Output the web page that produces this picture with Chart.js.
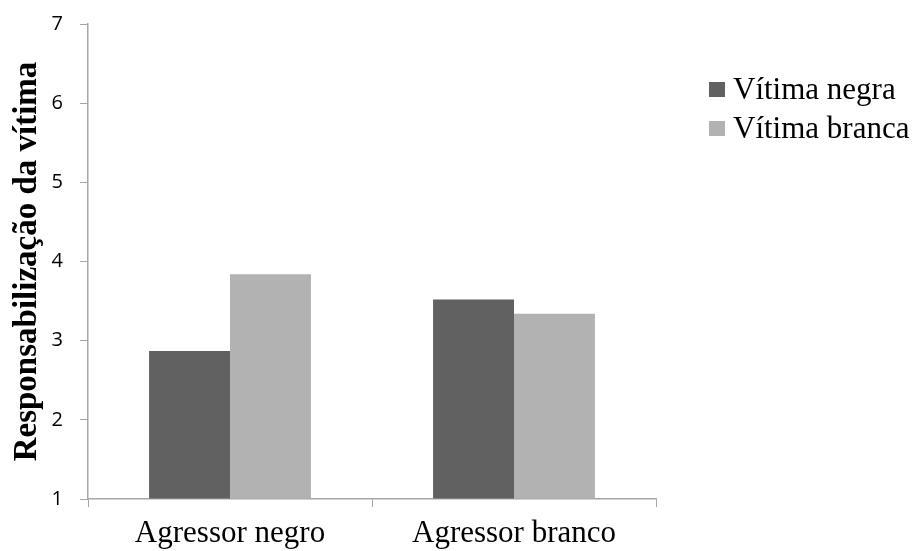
<!DOCTYPE html>
<html>
<head>
<meta charset="utf-8">
<script src="https://cdn.jsdelivr.net/npm/chart.js@4"></script>
<style>
  html, body { margin: 0; padding: 0; background: #fff; }
  #wrap { width: 916px; height: 551px; }
</style>
</head>
<body>
<div id="wrap"><canvas id="chart" width="916" height="551"></canvas></div>
<script>
const categories = ['Agressor negro', 'Agressor branco'];
const seriesNames = ['Vítima negra', 'Vítima branca'];
const vitimaNegra = [2.87, 3.52];
const vitimaBranca = [3.84, 3.34];
const yTicks = [1, 2, 3, 4, 5, 6, 7];

const serif = '"Liberation Serif", "Times New Roman", serif';
const axisGray = '#a6a6a6';

// legend drawn by hand on the right, next to the plot
const sideLegend = {
    id: 'sideLegend',
    afterDraw(chart) {
        const ctx = chart.ctx;
        ctx.save();
        ctx.font = '31px ' + serif;
        ctx.textBaseline = 'middle';
        chart.data.datasets.forEach((ds, i) => {
            const y = 90 + i * 39;
            ctx.fillStyle = ds.backgroundColor;
            ctx.fillRect(709, y - 8, 16, 15);
            ctx.fillStyle = '#000';
            ctx.fillText(ds.label, 733, y + 1);
        });
        ctx.restore();
    }
};

new Chart(document.getElementById('chart'), {
    type: 'bar',
    data: {
        labels: categories,
        datasets: [
            { label: seriesNames[0], data: vitimaNegra, backgroundColor: '#616161', base: 1 },
            { label: seriesNames[1], data: vitimaBranca, backgroundColor: '#b2b2b2', base: 1 }
        ]
    },
    options: {
        responsive: false,
        animation: false,
        layout: { padding: { top: 24, right: 260, left: 0, bottom: 0 } },
        datasets: { bar: { categoryPercentage: 0.57, barPercentage: 1.0 } },
        plugins: {
            legend: { display: false },
            tooltip: { enabled: false }
        },
        scales: {
            x: {
                grid: { display: true, drawOnChartArea: false, offset: true, tickLength: 8, color: axisGray },
                border: { color: axisGray, width: 1.5 },
                ticks: { color: '#000', font: { family: serif, size: 31 }, padding: 8 },
                afterFit(scale) { scale.height = 52; }
            },
            y: {
                min: 1,
                max: 7,
                afterBuildTicks(scale) { scale.ticks = yTicks.map(v => ({ value: v })); },
                grid: { display: true, drawOnChartArea: false, tickLength: 8, color: axisGray },
                border: { color: axisGray, width: 1.5 },
                ticks: { color: '#000', font: { family: '"Open Sans", sans-serif', size: 20 }, padding: 17 },
                title: {
                    display: true,
                    text: 'Responsabilização da vítima',
                    color: '#000',
                    font: { family: serif, size: 33, weight: 'bold' },
                    padding: { top: 8, bottom: 0 }
                },
                afterFit(scale) {
                    scale.width = 88;
                    scale.paddingTop = 0;
                    scale.paddingBottom = 0;
                }
            }
        }
    },
    plugins: [sideLegend]
});
</script>
</body>
</html>
